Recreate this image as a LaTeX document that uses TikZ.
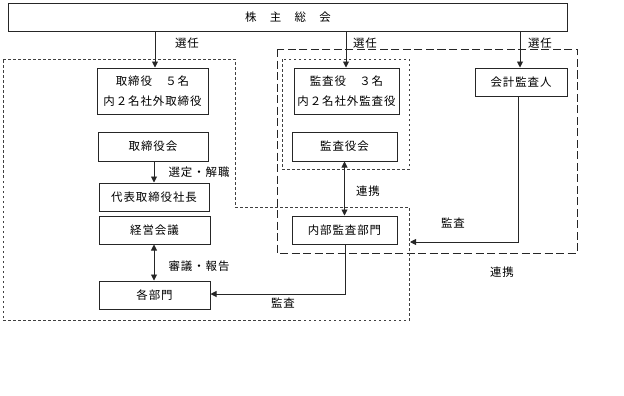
\documentclass[tikz,border=0pt]{standalone}
\usepackage{fontspec}
\setmainfont{Noto Sans CJK JP}[LetterSpace=8]
\usetikzlibrary{arrows.meta}
\begin{document}
\begin{tikzpicture}[x=1bp,y=-1bp,
  every node/.style={font=\fontsize{11.5}{20}\selectfont, inner sep=0pt},
  box/.style={draw=black!85, line width=1bp, fill=white, align=center},
  conn/.style={draw=black!85, line width=0.9bp},
  tip/.style={-{Triangle[length=6bp,width=6bp]}},
  dtip/.style={{Triangle[length=6bp,width=6bp]}-{Triangle[length=6bp,width=6bp]}},
  dotbox/.style={draw=black!75, line width=0.8bp, dash pattern=on 2.5bp off 2.5bp},
  dashbox/.style={draw=black!85, line width=0.9bp, dash pattern=on 8bp off 3.5bp}]
\useasboundingbox (0,0) rectangle (624,395);
% regions
\draw[dashbox] (277,49) rectangle (577,253);
\draw[dotbox] (282,59) rectangle (409,169);
\draw[dotbox] (3,59) -- (235,59) -- (235,207) -- (409,207) -- (409,320) -- (3,320) -- cycle;
% boxes
\node[box, minimum width=558bp, minimum height=28bp] (top) at (288,17) {株　主　総　会};
\node[box, minimum width=111bp, minimum height=46bp] (tori) at (152.5,91) {取締役　５名\\内２名社外取締役};
\node[box, minimum width=105bp, minimum height=46bp] (kyaku) at (346.5,91) {監査役　３名\\内２名社外監査役};
\node[box, minimum width=92bp, minimum height=28bp] (kaikei) at (521,82) {会計監査人};
\node[box, minimum width=110bp, minimum height=29bp] (torikai) at (153,146.5) {取締役会};
\node[box, minimum width=110bp, minimum height=28bp] (daihyo) at (154,197) {代表取締役社長};
\node[box, minimum width=111bp, minimum height=28bp] (keiei) at (154.5,230) {経営会議};
\node[box, minimum width=111bp, minimum height=28bp] (kakubu) at (154.5,295) {各部門};
\node[box, minimum width=105bp, minimum height=29bp] (kansakai) at (344.5,146.5) {監査役会};
\node[box, minimum width=105bp, minimum height=28bp] (naibu) at (344.5,230) {内部監査部門};
% connectors
\coordinate (a1) at (155,0);
\coordinate (a2) at (346,0);
\coordinate (a3) at (520,0);
\draw[conn,tip] (top.south -| a1) -- (tori.north -| a1);
\draw[conn,tip] (top.south -| a2) -- (kyaku.north -| a2);
\draw[conn,tip] (top.south -| a3) -- (kaikei.north -| a3);
\coordinate (c1) at (154,0);
\draw[conn,tip] (torikai.south -| c1) -- (daihyo.north -| c1);
\draw[conn,dtip] (keiei.south -| c1) -- (kakubu.north -| c1);
\draw[conn,dtip] (kansakai.south) -- (naibu.north);
\coordinate (kend) at (410,242);
\coordinate (k1) at (518,0);
\draw[conn,tip] (kaikei.south -| k1) -- (k1 |- kend) -- (kend);
\coordinate (n1) at (345,294);
\draw[conn,tip] (naibu.south -| n1) -- (n1) -- (n1 -| kakubu.east);
% labels
\node (l1) at (187,43) {選任};
\node (l2) at (365,43) {選任};
\node (l3) at (540,43) {選任};
\node (l4) at (199,172) {選定・解職};
\node (l5) at (199,266) {審議・報告};
\node (l6) at (368,191) {連携};
\node (l7) at (453,223) {監査};
\node (l8) at (502,272) {連携};
\node (l9) at (283,303) {監査};
\end{tikzpicture}
\end{document}
